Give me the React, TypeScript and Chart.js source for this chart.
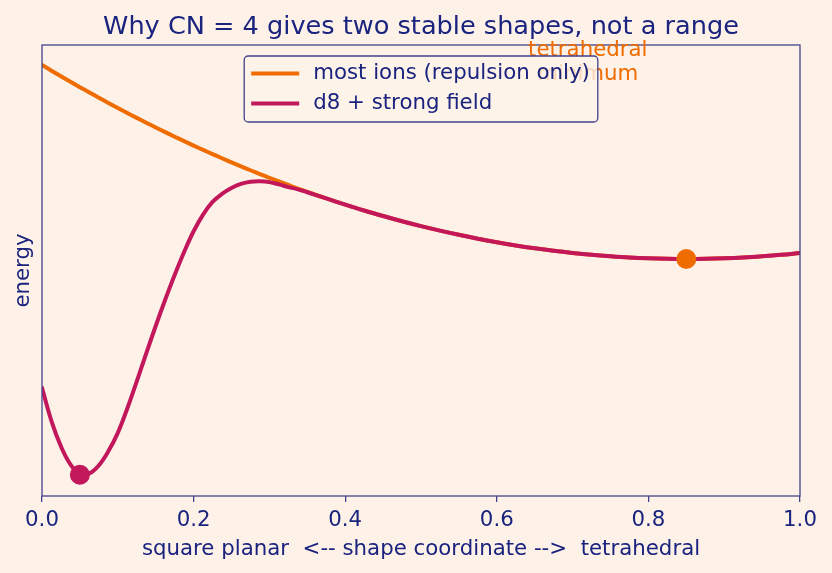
import React, { useEffect, useRef } from "react";
import { Chart, registerables } from "chart.js";

Chart.register(...registerables);

// ---------- data ----------
const shapeCoord = [
  0, 0.0125, 0.025, 0.0375, 0.05, 0.0625, 0.075, 0.0875, 0.1, 0.1125,
  0.125, 0.1375, 0.15, 0.1625, 0.175, 0.1875, 0.2, 0.2125, 0.225, 0.2375,
  0.25, 0.2625, 0.275, 0.2875, 0.3, 0.3125, 0.325, 0.3375, 0.35,
  0.375, 0.4, 0.425, 0.45, 0.475, 0.5, 0.525, 0.55, 0.575, 0.6,
  0.625, 0.65, 0.675, 0.7, 0.725, 0.75, 0.775, 0.8, 0.825, 0.85,
  0.875, 0.9, 0.925, 0.95, 0.975, 1.0,
];
const repulsionEnergy = [
  9.557, 9.431, 9.307, 9.185, 9.065, 8.947, 8.831, 8.716, 8.604, 8.493,
  8.384, 8.277, 8.172, 8.069, 7.967, 7.868, 7.770, 7.675, 7.581, 7.489,
  7.398, 7.310, 7.223, 7.139, 7.056, 6.975, 6.896, 6.818, 6.743,
  6.598, 6.461, 6.330, 6.208, 6.092, 5.984, 5.884, 5.791, 5.705, 5.627,
  5.556, 5.493, 5.437, 5.389, 5.348, 5.315, 5.288, 5.270, 5.259, 5.255,
  5.259, 5.270, 5.288, 5.315, 5.348, 5.389,
];
const d8StrongEnergy = [
  2.40, 1.66, 1.10, 0.70, 0.48, 0.50, 0.68, 0.99, 1.40, 1.94,
  2.54, 3.16, 3.77, 4.35, 4.90, 5.41, 5.87, 6.24, 6.52, 6.70,
  6.83, 6.92, 6.97, 6.98, 6.96, 6.91, 6.85, 6.80, 6.735,
  6.598, 6.461, 6.330, 6.208, 6.092, 5.984, 5.884, 5.791, 5.705, 5.627,
  5.556, 5.493, 5.437, 5.389, 5.348, 5.315, 5.288, 5.270, 5.259, 5.255,
  5.259, 5.270, 5.288, 5.315, 5.348, 5.389,
];
const squarePlanarMin = [{ x: 0.05, y: 0.47 }];
const tetrahedralMin = [{ x: 0.85, y: 5.255 }];
const xTickValues = [0, 0.2, 0.4, 0.6, 0.8, 1.0];
const seriesLabels = ["most ions (repulsion only)", "d8 + strong field"];
const titleText = "Why CN = 4 gives two stable shapes, not a range";
const xAxisLabel = "square planar  <-- shape coordinate -->  tetrahedral";
const yAxisLabel = "energy";
const annotationLines = ["tetrahedral", "minimum"];
const annotationAnchor = { x: 0.72, y: 9.75 };

// ---------- styles ----------
const BG = "#fef2e8";
const NAVY = "#1a237e";
const SPINE = "#42428a";
const ORANGE = "#ef6c00";
const CRIMSON = "#c2185b";
const FONT = "'DejaVu Sans', sans-serif";
const FS = 21.3;
const LW = 4;

const decorPlugin = {
  id: "decor",
  beforeDraw(chart: any) {
    const { ctx, width, height } = chart;
    ctx.save();
    ctx.fillStyle = BG;
    ctx.fillRect(0, 0, width, height);
    ctx.restore();
  },
  afterDatasetsDraw(chart: any) {
    const { ctx, chartArea: a } = chart;
    ctx.save();
    ctx.strokeStyle = SPINE;
    ctx.lineWidth = 1.3;
    ctx.strokeRect(a.left, a.top, a.right - a.left, a.bottom - a.top);
    ctx.restore();
  },
  afterDraw(chart: any) {
    const { ctx, chartArea: a, scales } = chart;
    const cx = (a.left + a.right) / 2;
    ctx.save();
    // title
    ctx.fillStyle = NAVY;
    ctx.font = `25.6px ${FONT}`;
    ctx.textAlign = "center";
    ctx.textBaseline = "alphabetic";
    ctx.fillText(titleText, cx, 34);

    // annotation
    ctx.fillStyle = ORANGE;
    ctx.font = `${FS}px ${FONT}`;
    const ax = scales.x.getPixelForValue(annotationAnchor.x);
    const ay = scales.y.getPixelForValue(annotationAnchor.y);
    annotationLines.forEach((t, i) => ctx.fillText(t, ax, ay + i * 24));

    // legend
    const items = [
      { label: chart.data.datasets[0].label, color: ORANGE },
      { label: chart.data.datasets[1].label, color: CRIMSON },
    ];
    ctx.font = `${FS}px ${FONT}`;
    const tw = Math.max(...items.map((it) => ctx.measureText(it.label).width));
    const bw = 7 + 48 + 14 + tw + 8;
    const bh = 66;
    const left = cx - bw / 2;
    const top = a.top + 11;
    ctx.beginPath();
    (ctx as any).roundRect(left, top, bw, bh, 4);
    ctx.fillStyle = "rgba(254,242,232,0.8)";
    ctx.fill();
    ctx.strokeStyle = SPINE;
    ctx.lineWidth = 1.3;
    ctx.stroke();
    items.forEach((it, i) => {
      const y = top + 17.5 + i * 30;
      ctx.beginPath();
      ctx.moveTo(left + 7, y);
      ctx.lineTo(left + 55, y);
      ctx.strokeStyle = it.color;
      ctx.lineWidth = LW;
      ctx.stroke();
      ctx.fillStyle = NAVY;
      ctx.textAlign = "left";
      ctx.textBaseline = "middle";
      ctx.fillText(it.label, left + 69, y);
    });
    ctx.restore();
  },
};

export default function App() {
  const ref = useRef<HTMLCanvasElement | null>(null);

  useEffect(() => {
    document.body.style.margin = "0";
    document.body.style.background = BG;
    const canvas = ref.current;
    if (!canvas) return;
    const chart = new Chart(canvas, {
      type: "line",
      data: {
        datasets: [
          {
            label: seriesLabels[0],
            data: shapeCoord.map((x, i) => ({ x, y: repulsionEnergy[i] })),
            borderColor: ORANGE,
            borderWidth: LW,
            pointRadius: 0,
            tension: 0.4,
            borderCapStyle: "round",
            borderJoinStyle: "round",
            order: 3,
          },
          {
            label: seriesLabels[1],
            data: shapeCoord.map((x, i) => ({ x, y: d8StrongEnergy[i] })),
            borderColor: CRIMSON,
            borderWidth: LW,
            pointRadius: 0,
            tension: 0.4,
            borderCapStyle: "round",
            borderJoinStyle: "round",
            order: 2,
          },
          {
            label: "square planar minimum",
            data: squarePlanarMin,
            showLine: false,
            pointRadius: 10,
            pointBackgroundColor: CRIMSON,
            pointBorderWidth: 0,
            order: 1,
          },
          {
            label: "tetrahedral minimum",
            data: tetrahedralMin,
            showLine: false,
            pointRadius: 10,
            pointBackgroundColor: ORANGE,
            pointBorderWidth: 0,
            order: 0,
          },
        ],
      },
      options: {
        responsive: false,
        animation: false,
        layout: { padding: { top: 45, right: 32, left: 0, bottom: 0 } },
        plugins: {
          legend: { display: false },
          title: { display: false },
          tooltip: { enabled: false },
        },
        scales: {
          x: {
            type: "linear",
            min: 0,
            max: 1,
            afterBuildTicks: (s: any) => {
              s.ticks = xTickValues.map((v) => ({ value: v }));
            },
            afterFit: (s: any) => {
              s.height = 77;
            },
            border: { display: false },
            grid: {
              drawOnChartArea: false,
              drawTicks: true,
              tickLength: 6,
              color: SPINE,
              lineWidth: 1.3,
            },
            ticks: {
              color: NAVY,
              font: { family: FONT, size: FS },
              padding: 6,
              maxRotation: 0,
              callback: (v: any) => Number(v).toFixed(1),
            },
            title: {
              display: true,
              text: xAxisLabel,
              color: NAVY,
              font: { family: FONT, size: FS },
              padding: { top: 0, bottom: 11 },
            },
          },
          y: {
            type: "linear",
            min: 0,
            max: 10,
            afterFit: (s: any) => {
              s.width = 42;
            },
            border: { display: false },
            grid: { display: false },
            ticks: { display: false },
            title: {
              display: true,
              text: yAxisLabel,
              color: NAVY,
              font: { family: FONT, size: FS },
              padding: { top: 11, bottom: 0 },
            },
          },
        },
      },
      plugins: [decorPlugin],
    });
    return () => chart.destroy();
  }, []);

  return (
    <div style={{ width: 832, height: 573 }}>
      <canvas ref={ref} width={832} height={573} style={{ display: "block" }} />
    </div>
  );
}
